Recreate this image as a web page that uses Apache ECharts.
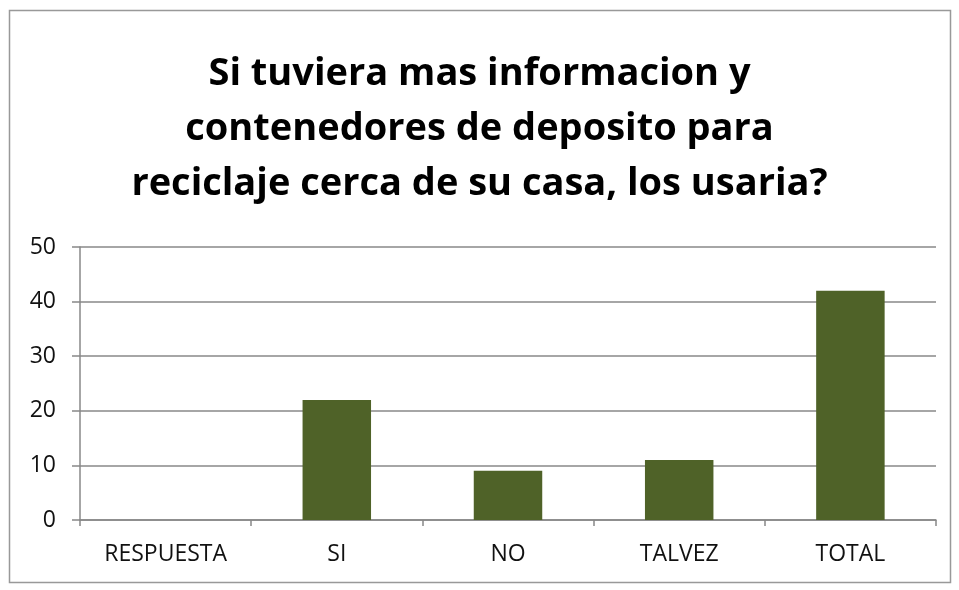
<!DOCTYPE html>
<html>
<head>
<meta charset="utf-8">
<script src="https://cdn.jsdelivr.net/npm/echarts@6/dist/echarts.min.js"></script>
<style>
  html, body { margin: 0; padding: 0; background: #fff; }
  #chart { width: 959px; height: 590px; }
</style>
</head>
<body>
<div id="chart"></div>
<script>
var chartData = [
  { name: "RESPUESTA", value: 0 },
  { name: "SI", value: 22 },
  { name: "NO", value: 9 },
  { name: "TALVEZ", value: 11 },
  { name: "TOTAL", value: 42 }
];

var chart = echarts.init(document.getElementById("chart"));
var option = {
  animation: false,
  textStyle: { fontFamily: "Open Sans" },
  title: {
    text: "Si tuviera mas informacion y\ncontenedores de deposito para\nreciclaje cerca de su casa, los usaria?",
    left: "center",
    top: 42,
    textStyle: {
      color: "#000",
      fontSize: 38,
      fontWeight: "bold",
      lineHeight: 55,
      fontFamily: "Open Sans"
    }
  },
  graphic: [
    {
      type: "rect",
      shape: { x: 9.5, y: 10.5, width: 941, height: 572 },
      style: { fill: "none", stroke: "#999", lineWidth: 1.5 },
      silent: true
    }
  ],
  grid: { left: 80, right: 23, top: 247, bottom: 70 },
  xAxis: {
    type: "category",
    data: chartData.map(function (d) { return d.name; }),
    axisLine: { lineStyle: { color: "#888", width: 1.5 } },
    axisTick: { show: true, length: 6, lineStyle: { color: "#888", width: 1.5 } },
    axisLabel: { color: "#111", fontSize: 23, margin: 23 }
  },
  yAxis: {
    type: "value",
    min: 0,
    max: 50,
    interval: 10,
    axisLine: { show: true, lineStyle: { color: "#888", width: 1.5 } },
    axisTick: { show: true, length: 8, lineStyle: { color: "#888", width: 1.5 } },
    axisLabel: { color: "#111", fontSize: 23, margin: 24 },
    splitLine: { lineStyle: { color: "#888", width: 1.5 } }
  },
  series: [
    {
      type: "bar",
      barWidth: "40%",
      data: chartData.map(function (d) { return d.value; }),
      itemStyle: { color: "#4f6228" }
    }
  ]
};
chart.setOption(option);
</script>
</body>
</html>
